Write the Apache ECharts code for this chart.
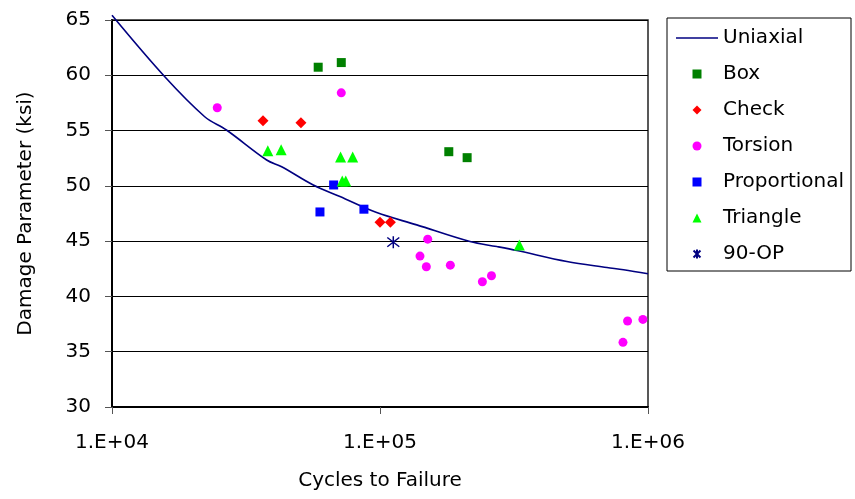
<!DOCTYPE html>
<html>
<head>
<meta charset="utf-8">
<script src="https://cdn.jsdelivr.net/npm/echarts@6/dist/echarts.min.js"></script>
<style>
html,body{margin:0;padding:0;background:#fff;}
#chart{width:855px;height:499px;}
</style>
</head>
<body>
<div id="chart"></div>
<script>
// ---- Data ----
const uniaxialX = [10000, 15740, 22180, 26730, 37760, 42960, 56360, 70900, 97200, 137100, 216700, 272900, 324400, 498000, 702800, 811000, 1000000];
const uniaxialY = [65.42, 59.86, 56.25, 55.05, 52.34, 51.73, 50.08, 49.03, 47.58, 46.47, 44.96, 44.51, 44.15, 43.16, 42.62, 42.41, 42.05];

const boxX = [58800, 71700, 180600, 211400];
const boxY = [60.73, 61.15, 53.09, 52.55];

const checkX = [36600, 50700, 100000, 109300];
const checkY = [55.88, 55.70, 46.71, 46.71];

const torsionX = [24700, 71700, 150700, 141000, 148900, 183000, 241000, 260600, 839000, 957000, 806600];
const torsionY = [57.06, 58.41, 45.18, 43.65, 42.68, 42.83, 41.33, 41.87, 37.78, 37.92, 35.85];

const proportionalX = [67150, 59700, 87100];
const proportionalY = [50.08, 47.64, 47.89];

const triangleX = [38150, 42760, 71270, 79090, 72300, 74500, 331000];
const triangleY = [53.18, 53.27, 52.60, 52.60, 50.44, 50.44, 44.64];

const op90X = [112100];
const op90Y = [44.91];

const seriesNames = ['Uniaxial', 'Box', 'Check', 'Torsion', 'Proportional', 'Triangle', '90-OP'];
const xAxisTitle = 'Cycles to Failure';
const yAxisTitle = 'Damage Parameter (ksi)';

function pairs(xs, ys) { return xs.map((x, i) => [x, ys[i]]); }

const FONT = 'DejaVu Sans';
const chart = echarts.init(document.getElementById('chart'), null, {renderer: 'canvas'});

const SQUARE = 'path://M0,0H1V1H0Z';
const DIAMOND = 'path://M0.5,0L1,0.5L0.5,1L0,0.5Z';
const TRIANGLE = 'path://M0.5,0L1,1H0Z';
const STAR = 'path://M-1,-1L1,1M1,-1L-1,1M0,-1.3L0,1.3';

const legendIcons = {
  'Uniaxial': 'path://M0,0H42V1.6H0Z',
  'Box': SQUARE,
  'Check': 'path://M0.5,-0.1L1.1,0.5L0.5,1.1L-0.1,0.5Z',
  'Torsion': 'circle',
  'Proportional': SQUARE,
  'Triangle': TRIANGLE,
  '90-OP': STAR
};

chart.setOption({
  animation: false,
  backgroundColor: '#fff',
  textStyle: {fontFamily: FONT, color: '#000'},
  grid: {
    left: 112, top: 20, right: 207, bottom: 92,
    show: true, borderColor: '#222', borderWidth: 1.5, backgroundColor: 'transparent'
  },
  legend: {
    orient: 'vertical',
    left: 667, top: 18,
    padding: [9, 7, 6, 9],
    itemWidth: 42, itemHeight: 9, itemGap: 14,
    symbolKeepAspect: true,
    borderColor: '#000', borderWidth: 1,
    backgroundColor: '#fff',
    textStyle: {fontFamily: FONT, fontSize: 20, lineHeight: 22, color: '#000'},
    data: seriesNames.map(n => ({name: n, icon: legendIcons[n]}))
  },
  xAxis: {
    type: 'log', logBase: 10, min: 10000, max: 1000000,
    name: xAxisTitle, nameLocation: 'middle', nameGap: 64,
    nameTextStyle: {fontFamily: FONT, fontSize: 20, color: '#000'},
    axisLine: {show: true, onZero: false, lineStyle: {color: '#000', width: 2}},
    axisTick: {show: true, inside: false, length: 7, lineStyle: {color: '#555', width: 1}},
    axisLabel: {
      margin: 26, fontFamily: FONT, fontSize: 20, color: '#000',
      formatter: v => '1.E+' + String(Math.round(Math.log10(v))).padStart(2, '0')
    },
    splitLine: {show: false},
    minorTick: {show: false}
  },
  yAxis: {
    type: 'value', min: 30, max: 65, interval: 5,
    name: yAxisTitle, nameLocation: 'middle', nameGap: 76, nameRotate: 90,
    nameTextStyle: {fontFamily: FONT, fontSize: 20, color: '#000'},
    axisLine: {show: true, onZero: false, lineStyle: {color: '#000', width: 2}},
    axisTick: {show: true, inside: false, length: 7, lineStyle: {color: '#555', width: 1}},
    axisLabel: {margin: 21, fontFamily: FONT, fontSize: 20, color: '#000'},
    splitLine: {show: true, lineStyle: {color: '#000', width: 1}}
  },
  series: [
    {
      name: 'Uniaxial', type: 'line', data: pairs(uniaxialX, uniaxialY),
      showSymbol: false, symbol: 'none', clip: false, smooth: 0.35,
      lineStyle: {color: '#000080', width: 1.6}, itemStyle: {color: '#000080'}, z: 3
    },
    {
      name: 'Box', type: 'scatter', data: pairs(boxX, boxY),
      symbol: 'rect', symbolSize: 9, itemStyle: {color: '#008000', opacity: 1}, z: 4
    },
    {
      name: 'Check', type: 'scatter', data: pairs(checkX, checkY),
      symbol: 'diamond', symbolSize: 11, itemStyle: {color: '#FF0000', opacity: 1}, z: 4
    },
    {
      name: 'Torsion', type: 'scatter', data: pairs(torsionX, torsionY),
      symbol: 'circle', symbolSize: 9, itemStyle: {color: '#FF00FF', opacity: 1}, z: 4
    },
    {
      name: 'Proportional', type: 'scatter', data: pairs(proportionalX, proportionalY),
      symbol: 'rect', symbolSize: 9, itemStyle: {color: '#0000FF', opacity: 1}, z: 4
    },
    {
      name: 'Triangle', type: 'scatter', data: pairs(triangleX, triangleY),
      symbol: 'triangle', symbolSize: 11, itemStyle: {color: '#00FF00', opacity: 1}, z: 4
    },
    {
      name: '90-OP', type: 'scatter', data: pairs(op90X, op90Y),
      symbol: STAR, symbolSize: 12,
      itemStyle: {color: 'rgba(0,0,0,0)', borderColor: '#000080', borderWidth: 1.5, opacity: 1}, z: 4
    }
  ]
});
</script>
</body>
</html>
